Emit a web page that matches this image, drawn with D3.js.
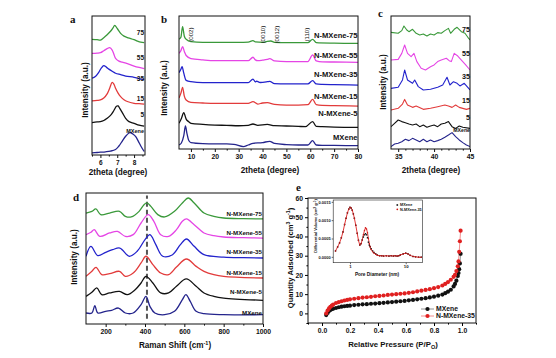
<!DOCTYPE html>
<html><head><meta charset="utf-8">
<script src="https://cdn.jsdelivr.net/npm/d3@7"></script>
<style>
body{margin:0;background:#fff}
svg{display:block}
text{font-family:"Liberation Sans",Arial,sans-serif;font-weight:bold;fill:#111}
.pl{font-family:"Liberation Serif","Times New Roman",serif;font-weight:bold}
</style>
</head><body><svg id="c" width="556" height="358"></svg>
<script>
// ---------- DATA ----------
const sampleLabelsShort = ["75","55","35","15","5","MXene"];
const sampleLabelsLong = ["N-MXene-75","N-MXene-55","N-MXene-35","N-MXene-15","N-MXene-5","MXene"];

// panel a (2theta, stacked intensity a.u.)
const a75 = [[5.5,83.2],[5.8,83.0],[6.0,82.7],[6.2,84.4],[6.4,86.5],[6.6,89.0],[6.75,91.5],[6.85,93.3],[7.0,91.0],[7.2,87.5],[7.4,85.5],[7.6,84.5],[7.8,83.8],[8.0,83.0],[8.2,82.0],[8.4,81.2],[8.6,80.8]];
const a55 = [[5.5,73.1],[5.8,73.3],[6.0,73.6],[6.2,75.0],[6.4,76.5],[6.55,77.2],[6.7,75.5],[6.8,72.5],[6.9,69.5],[7.1,67.5],[7.3,66.8],[7.6,65.8],[8.0,64.0],[8.3,63.0],[8.6,62.2]];
const a35 = [[5.5,55.2],[5.7,56.5],[5.9,59.5],[6.05,62.5],[6.2,64.3],[6.35,63.2],[6.5,61.8],[6.7,60.2],[6.9,58.8],[7.2,57.8],[7.5,56.8],[8.0,55.9],[8.3,55.0],[8.6,54.2]];
const a15 = [[5.5,39.0],[5.8,39.3],[6.0,39.6],[6.2,41.0],[6.4,44.0],[6.55,48.0],[6.7,52.3],[6.8,51.0],[6.9,48.0],[7.05,44.5],[7.2,42.0],[7.4,39.8],[7.6,38.5],[8.0,37.2],[8.3,36.9],[8.6,36.6]];
const a5 = [[5.5,23.3],[5.8,23.8],[6.0,24.0],[6.2,24.8],[6.4,26.4],[6.6,28.5],[6.8,32.0],[6.95,35.0],[7.05,35.3],[7.15,33.5],[7.3,30.5],[7.5,26.4],[7.7,24.0],[8.0,22.8],[8.3,21.5],[8.6,20.8]];
const a0 = [[5.5,1.5],[5.8,1.8],[6.0,2.0],[6.3,2.3],[6.6,2.8],[6.9,4.0],[7.1,6.5],[7.3,10.0],[7.5,13.5],[7.7,15.8],[7.8,16.0],[7.95,15.0],[8.1,13.2],[8.25,10.0],[8.4,6.5],[8.6,2.5]];
const aTicks = [6,7,8];

// panel b
const b75 = [[5,82.5],[5.8,84],[6.5,92],[7.2,85],[8,82.5],[10,80.7],[15,80.2],[20,80.2],[25,80.2],[30,80.2],[34,80.4],[36,81.5],[37,80.5],[40,80.2],[42,81],[43.5,81.2],[45,80.2],[50,80],[55,80],[59,80],[61,82.5],[62.5,80],[70,79.6],[80,79.4]];
const b55 = [[5,72],[5.8,74],[6.5,77],[7.3,73],[8,70.3],[10,68],[15,67],[20,66.4],[25,66.4],[30,66.4],[34,66.4],[36,69],[37,67],[38,66.4],[40,66.8],[42,67.4],[43,67.9],[45,66.2],[50,65.7],[55,65.7],[59,65.7],[61,70.7],[62.5,66.2],[65,65.5],[70,65.4],[80,65.2]];
const b35 = [[5,57.4],[5.8,60],[6.3,62],[7,57],[8,51.6],[10,50.6],[15,49.9],[20,49.9],[25,49.9],[30,49.9],[34,49.9],[36,52.6],[37,50.4],[37.5,51],[39,50],[42,50.6],[43,50.9],[45,49.1],[50,48.9],[55,48.9],[59,48.9],[61,51.4],[62.5,48.9],[65,48.6],[70,48.4],[80,48.1]];
const b15 = [[5,38.3],[5.8,42],[6.5,46.4],[7.2,40],[8,36.8],[10,35.1],[15,34.6],[20,34.3],[25,34.3],[30,34.3],[34,34.3],[36,35.6],[38,33.8],[40,34.6],[42,34.8],[45,33.6],[50,33],[55,33],[59,33.3],[61,37.3],[62.5,33.3],[65,32.8],[70,32.6],[80,32.3]];
const b5 = [[5,19.3],[6,23],[7,27.3],[8,22.5],[9,20.6],[10,19.3],[15,18.5],[20,18],[25,17.8],[30,17.5],[34,17.8],[36,18.8],[38,17.8],[42,18.5],[45,17.5],[50,17.3],[55,17],[58,16.8],[61,20.6],[62.5,17],[65,16.8],[70,16.5],[80,16.3]];
const b0 = [[5,3],[6,4.5],[7,10],[7.7,17.3],[8.3,12],[9,6.8],[10,4.8],[15,4],[20,3.8],[25,3.8],[28,3.5],[32,1.8],[34,3],[36,4.3],[40,4.8],[43,5.8],[45,4.2],[50,3.3],[55,3],[59,3],[61,6.3],[62.5,3],[65,2.8],[70,2.7],[80,2.5]];
const bTicks = [10,20,30,40,50,60,70,80];
const bPeakLabels = ["(002)","(0010)","(0012)","(110)"];
const bPeakPos = [10,40.3,46.1,58.5];

// panel c
const c75 = [[34,87.7],[35,87.0],[35.5,89.0],[35.8,92.5],[36.2,89.5],[36.5,88.2],[37,90.0],[37.5,87.0],[38,85.7],[38.5,86.5],[39,85.0],[39.5,86.5],[40,85.7],[40.5,87.5],[41,87.0],[41.5,89.0],[42,90.7],[42.3,87.0],[42.8,90.0],[43.2,91.5],[43.8,88.2],[44.3,87.0],[44.7,84.0],[45,82.0]];
const c55 = [[34,66.9],[35,67.4],[35.5,71.9],[35.9,78.2],[36.3,71.9],[36.8,69.4],[37.2,71.9],[37.6,65.7],[38.2,60.7],[38.8,59.4],[39.5,61.9],[40,63.2],[40.5,65.7],[41,66.9],[41.7,68.2],[42.1,66.4],[42.4,65.7],[42.8,71.9],[43.3,69.9],[43.8,66.9],[44.4,63.2],[45,59.4]];
const c35 = [[34,45.6],[35,46.4],[35.6,51.9],[35.9,59.4],[36.3,51.9],[37,49.4],[37.3,51.9],[37.8,46.9],[38.5,44.4],[39.5,44.9],[40.5,46.4],[41.2,48.1],[41.8,53.9],[42.2,48.1],[42.7,50.6],[43.2,49.4],[43.6,47.4],[44.2,49.4],[45,44.4]];
const c15 = [[34,29.3],[35,30.6],[35.6,33.8],[35.9,37.3],[36.3,33.1],[37,31.3],[37.5,32.3],[38.5,29.8],[39.5,30.6],[40.5,31.8],[41.5,33.1],[42,32.3],[42.5,31.3],[43,33.1],[43.5,31.3],[44.5,29.8],[45,30.6]];
const c5 = [[34,16.8],[34.5,19.3],[35,21.8],[35.5,20.6],[36,19.8],[36.5,18.8],[37,18.0],[37.5,18.8],[38,16.8],[38.5,18.0],[39,16.3],[39.5,17.3],[40,18.0],[40.5,16.8],[41,18.8],[41.5,19.3],[42,20.6],[42.5,16.8],[43,15.5],[43.5,17.3],[44,16.3],[45,15.5]];
const c0 = [[34,1.8],[34.5,3.8],[35,4.3],[35.5,5.5],[36,7.3],[36.5,6.3],[37,8.0],[37.5,6.8],[38,5.5],[38.5,7.3],[39,5.5],[39.5,6.8],[40,5.5],[40.5,6.3],[41,7.3],[41.5,8.8],[42,10.5],[42.5,12.3],[43,9.3],[43.5,6.8],[44,4.8],[44.5,3.0],[45,1.8]];
const cTicks = [35,40,45];

// panel d (Raman shift)
const d75 = [[100,84.7],[130,86.0],[150,87.8],[175,83.5],[220,84.7],[270,86.0],[300,82.2],[330,81.7],[370,86.0],[395,91.1],[410,92.4],[430,89.8],[465,83.5],[500,81.7],[550,86.0],[590,92.4],[620,96.2],[650,92.4],[700,84.7],[750,82.2],[800,80.9],[900,80.4],[1000,80.2]];
const d55 = [[100,68.2],[125,70.0],[142,72.0],[170,66.9],[220,69.5],[260,70.7],[300,66.9],[340,68.2],[380,77.1],[416,83.5],[445,78.4],[480,68.2],[520,66.9],[560,72.0],[590,78.4],[611,80.2],[650,75.8],[700,69.5],[750,67.4],[800,66.4],[900,65.9],[1000,65.6]];
const d35 = [[100,51.7],[125,59.3],[160,52.2],[200,54.7],[235,56.7],[272,58.0],[320,51.7],[360,55.5],[400,64.4],[425,68.2],[455,60.6],[490,51.7],[540,52.9],[580,60.6],[611,64.9],[650,59.3],[700,52.9],[800,51.1],[900,50.6],[1000,50.4]];
const d15 = [[100,36.4],[130,40.2],[151,43.3],[180,37.7],[220,38.4],[270,40.2],[300,36.4],[340,38.9],[380,46.6],[405,51.7],[440,45.3],[480,38.9],[520,37.7],[560,43.5],[611,49.6],[660,44.0],[700,40.2],[750,37.7],[800,36.4],[1000,35.1]];
const d5 = [[100,21.1],[130,24.2],[155,27.5],[180,22.4],[220,23.7],[270,24.9],[310,22.4],[350,26.2],[380,31.3],[405,36.4],[440,31.3],[480,23.7],[520,23.7],[560,28.8],[610,34.4],[660,28.8],[700,23.7],[750,21.1],[800,19.8],[1000,18.1]];
const d0 = [[100,8.4],[130,8.4],[145,14.0],[160,8.4],[200,9.7],[230,10.4],[265,12.2],[300,8.4],[340,8.4],[380,14.8],[405,21.1],[425,13.5],[450,8.4],[500,7.1],[550,9.7],[590,18.6],[608,22.4],[630,17.3],[660,9.7],[700,7.9],[800,7.1],[1000,7.1]];
const dTicks = [200,400,600,800,1000];
const dGuide = 410;

// panel e: N2 isotherms
const eMX = [[0.03,-0.9],[0.04,0.2],[0.05,1.2],[0.06,1.8],[0.07,2.2],[0.08,2.4],[0.1,2.8],[0.12,3.2],[0.14,3.5],[0.16,3.7],[0.18,3.9],[0.2,4.0],[0.23,4.3],[0.26,4.5],[0.29,4.7],[0.32,4.8],[0.35,5.0],[0.38,5.1],[0.41,5.3],[0.44,5.5],[0.47,5.7],[0.5,5.9],[0.53,6.1],[0.56,6.3],[0.59,6.5],[0.62,6.8],[0.65,7.0],[0.68,7.3],[0.71,7.6],[0.74,7.9],[0.77,8.3],[0.8,8.7],[0.83,9.2],[0.86,9.8],[0.88,10.5],[0.9,11.3],[0.92,12.3],[0.94,14.0],[0.95,15.3],[0.96,17.0],[0.97,19.5],[0.975,21.0],[0.98,23.0],[0.985,26.0],[0.99,31.0]];
const eN35 = [[0.03,0.0],[0.04,1.5],[0.05,2.6],[0.06,3.4],[0.07,4.0],[0.08,4.6],[0.1,5.4],[0.12,5.9],[0.14,6.3],[0.16,6.7],[0.18,7.0],[0.2,7.3],[0.23,7.6],[0.26,7.9],[0.29,8.2],[0.32,8.4],[0.35,8.6],[0.38,8.9],[0.41,9.1],[0.44,9.3],[0.47,9.6],[0.5,9.8],[0.53,10.0],[0.56,10.2],[0.59,10.4],[0.62,10.7],[0.65,11.0],[0.68,11.4],[0.71,11.8],[0.74,12.2],[0.77,12.6],[0.8,13.1],[0.83,13.7],[0.86,14.5],[0.88,15.3],[0.9,16.3],[0.92,17.5],[0.94,19.0],[0.95,20.0],[0.96,22.0],[0.97,24.5],[0.975,27.0],[0.98,32.0],[0.985,37.5],[0.99,43.0]];
const eXTicks = [0,0.2,0.4,0.6,0.8,1.0];
const eYTicks = [0,10,20,30,40,50,60];
const eLegend = ["MXene","N-MXene-35"];

// inset: pore size distribution
const insMX = [[0.55,0.00016],[0.6,0.00027],[0.65,0.00038],[0.7,0.00052],[0.75,0.00068],[0.8,0.00088],[0.85,0.00105],[0.9,0.0012],[0.95,0.0013],[1.0,0.00135],[1.05,0.00133],[1.1,0.00127],[1.15,0.00117],[1.2,0.00105],[1.27,0.00086],[1.35,0.00064],[1.42,0.00045],[1.5,0.00032],[1.58,0.00036],[1.66,0.00046],[1.74,0.00054],[1.82,0.0006],[1.9,0.00063],[1.98,0.0006],[2.06,0.00052],[2.14,0.0004],[2.22,0.00032],[2.3,0.00028],[2.4,0.00022],[2.55,0.00016],[2.7,0.00012],[2.9,0.00008],[3.1,0.00005],[3.4,0.00003],[3.7,0.00003],[4,0.00002],[4.5,0.00003],[5,0.00002],[5.5,0.00003],[6,0.00002],[6.5,0.00003],[7,0.00002],[7.5,0.00003],[8,0.00005],[9,0.00008],[10,0.0001],[11,0.00008],[12,0.00004],[13.5,0.00001],[15,0.0],[17,-0.00001],[19,-0.00001]];
const insN35 = [[0.55,0.00016],[0.6,0.00027],[0.65,0.00038],[0.7,0.00052],[0.75,0.00068],[0.8,0.00088],[0.85,0.00105],[0.9,0.0012],[0.95,0.0013],[1.0,0.00135],[1.05,0.00133],[1.1,0.00127],[1.15,0.00117],[1.2,0.00105],[1.27,0.00086],[1.35,0.00064],[1.42,0.00045],[1.5,0.00032],[1.58,0.00036],[1.66,0.00046],[1.74,0.0006],[1.82,0.00072],[1.9,0.00079],[1.98,0.00076],[2.06,0.00066],[2.14,0.0005],[2.22,0.00036],[2.3,0.00027],[2.4,0.0002],[2.55,0.00014],[2.7,0.0001],[2.9,0.00007],[3.1,0.00004],[3.4,0.00003],[3.7,0.00003],[4,0.00002],[4.5,0.00003],[5,0.00002],[5.5,0.00003],[6,0.00002],[6.5,0.00003],[7,0.00002],[7.5,0.00003],[8,0.00005],[9,0.00008],[10,0.0001],[11,0.00008],[12,0.00004],[13.5,0.00001],[15,0.0],[17,-0.00001],[19,-0.00001]];
const insXTicks = [1,10];
const insYTicks = [0,0.0005,0.001,0.0015];

// ---------- STYLE ----------
const traceColors = ["#3a993a","#e545e5","#2323cc","#e23b3b","#111111","#24248c"];
const svg = d3.select("#c");

function frameAndAxis(g, x, y, box, ticks, minor, fmt, fs) {
  g.append("rect").attr("x",box.l).attr("y",box.t).attr("width",box.r-box.l).attr("height",box.b-box.t)
    .attr("fill","none").attr("stroke","#111").attr("stroke-width",1);
  const ax = g.append("g").attr("transform",`translate(0,${box.b})`)
    .call(d3.axisBottom(x).tickValues(ticks).tickSize(3).tickPadding(2).tickFormat(fmt));
  ax.select(".domain").remove();
  ax.selectAll("line").attr("stroke","#111");
  ax.selectAll("text").attr("font-size",fs).attr("fill","#111").style("font-weight","bold");
  if (minor) {
    const mx = g.append("g").attr("transform",`translate(0,${box.b})`)
      .call(d3.axisBottom(x).tickValues(minor).tickSize(1.6).tickFormat(""));
    mx.select(".domain").remove();
    mx.selectAll("line").attr("stroke","#111");
  }
}

function stackPanel(cfg) {
  const g = svg.append("g");
  const box = cfg.box;
  const x = d3.scaleLinear().domain(cfg.xd).range([box.l, box.r]);
  const y = d3.scaleLinear().domain([0,100]).range([box.b, box.t]);
  const id = "clip" + cfg.name;
  g.append("clipPath").attr("id",id).append("rect")
    .attr("x",box.l).attr("y",box.t).attr("width",box.r-box.l).attr("height",box.b-box.t);
  const line = d3.line().x(d=>x(d[0])).y(d=>y(d[1])).curve(cfg.curve);
  const gc = g.append("g").attr("clip-path",`url(#${id})`);
  if (cfg.guide !== undefined) {
    gc.append("line").attr("x1",x(cfg.guide)).attr("x2",x(cfg.guide))
      .attr("y1",y(4)).attr("y2",y(98)).attr("stroke","#555").attr("stroke-width",2).attr("stroke-dasharray","5,3");
  }
  cfg.series.forEach((s,i)=>{
    gc.append("path").attr("d",line(s)).attr("fill","none")
      .attr("stroke",traceColors[i]).attr("stroke-width",cfg.sw||1.3).attr("stroke-linejoin","round");
  });
  cfg.labels.forEach((t,i)=>{
    g.append("text").attr("x",cfg.labelX).attr("y",y(cfg.labelY[i]))
      .attr("text-anchor","end").attr("font-size",t==="MXene"&&cfg.smallMX?cfg.smallMX:cfg.labelFs).text(t);
  });
  frameAndAxis(g, x, y, box, cfg.ticks, cfg.minor, cfg.fmt||(d=>d), cfg.tickFs);
  // titles
  g.append("text").attr("class","pl").attr("x",cfg.letter[0]).attr("y",cfg.letter[1]).attr("font-size",11).text(cfg.name);
  g.append("text").attr("transform",`translate(${cfg.ylab[0]},${cfg.ylab[1]}) rotate(-90)`)
    .attr("text-anchor","middle").attr("dy","0.35em").attr("font-size",cfg.titleFs).text("Intensity (a.u.)");
  const xl = g.append("text").attr("x",cfg.xlab[0]).attr("y",cfg.xlab[1]).attr("text-anchor","middle").attr("font-size",cfg.titleFs);
  cfg.xtitle(xl);
  return {g,x,y};
}

// panel a
stackPanel({name:"a", box:{l:92,r:145,t:16,b:155}, xd:[5.5,8.65], series:[a75,a55,a35,a15,a5,a0],
  curve:d3.curveCatmullRom, labels:sampleLabelsShort, labelX:144, labelY:[86,68,53,38.5,27,15.5], labelFs:6.5, smallMX:5.5,
  ticks:aTicks, minor:[5.5,6.5,7.5,8.5], tickFs:6.5, letter:[70,23], ylab:[85,90], xlab:[118,175], titleFs:8.2,
  xtitle:t=>t.text("2theta (degree)")});

// panel b
const pb = stackPanel({name:"b", box:{l:179,r:358,t:16,b:149}, xd:[5,80], series:[b75,b55,b35,b15,b5,b0],
  curve:d3.curveMonotoneX, labels:sampleLabelsLong, labelX:357.5, labelY:[83.5,68.4,54.1,37.8,24.8,7.0], labelFs:7.6,
  ticks:bTicks, minor:[15,25,35,45,55,65,75], tickFs:6.8, letter:[161,23], ylab:[164,88], xlab:[270,173], titleFs:8.2,
  xtitle:t=>t.text("2theta (degree)")});
bPeakLabels.forEach((t,i)=>{
  pb.g.append("text").attr("transform",`translate(${pb.x(bPeakPos[i])},${pb.y(86)}) rotate(-90)`)
    .attr("text-anchor","middle").attr("dy","0.35em").attr("font-size",6.2).style("font-weight","normal").text(t);
});

// panel c
stackPanel({name:"c", box:{l:391,r:470,t:16,b:149}, xd:[34,45], series:[c75,c55,c35,c15,c5,c0],
  curve:d3.curveLinear, sw:1.1, labels:sampleLabelsShort, labelX:470, labelY:[88,70,52.6,34.6,21.8,12.5], labelFs:7.2, smallMX:5.2,
  ticks:cTicks, minor:[36,37,38,39,41,42,43,44], tickFs:6.8, letter:[378,17], ylab:[383,82], xlab:[431,173], titleFs:8.2,
  xtitle:t=>t.text("2theta (degree)")});

// panel d
stackPanel({name:"d", box:{l:86,r:263,t:193,b:324}, xd:[100,1000], series:[d75,d55,d35,d15,d5,d0],
  curve:d3.curveCatmullRom, guide:dGuide, labels:sampleLabelsLong, labelX:262, labelY:[82.7,67.9,53.4,37.4,22.9,6.9], labelFs:6.2,
  ticks:dTicks, minor:[300,500,700,900], tickFs:6.8, letter:[73,201], ylab:[74,257], xlab:[175,348], titleFs:8.2,
  xtitle:t=>{t.append("tspan").text("Raman Shift (cm");t.append("tspan").attr("dy",-3).attr("font-size",5.5).text("-1");t.append("tspan").attr("dy",3).text(")");}});

// panel e
(function(){
  const g = svg.append("g");
  const box = {l:308,r:476,t:198,b:323};
  const x = d3.scaleLinear().domain([-0.1,1.1]).range([box.l,box.r]);
  const y = d3.scaleLinear().domain([-5,60]).range([box.b,box.t]);
  const line = d3.line().x(d=>x(d[0])).y(d=>y(d[1]));
  const sets = [{d:eMX,c:"#111",lc:"#777"},{d:eN35,c:"#e02020",lc:"#f07070"}];
  sets.forEach(s=>{
    g.append("path").attr("d",line(s.d)).attr("fill","none").attr("stroke",s.lc).attr("stroke-width",0.8);
  });
  sets.forEach(s=>{
    g.selectAll(null).data(s.d).enter().append("circle").attr("cx",d=>x(d[0])).attr("cy",d=>y(d[1]))
      .attr("r",2.1).attr("fill",s.c);
  });
  g.append("rect").attr("x",box.l).attr("y",box.t).attr("width",box.r-box.l).attr("height",box.b-box.t)
    .attr("fill","none").attr("stroke","#111").attr("stroke-width",1);
  const ax = g.append("g").attr("transform",`translate(0,${box.b})`)
    .call(d3.axisBottom(x).tickValues(eXTicks).tickSize(3).tickPadding(2).tickFormat(d3.format(".1f")));
  ax.select(".domain").remove();
  ax.selectAll("text").attr("font-size",6.8).style("font-weight","bold").attr("fill","#111");
  const mx = g.append("g").attr("transform",`translate(0,${box.b})`)
    .call(d3.axisBottom(x).tickValues([-0.1,0.1,0.3,0.5,0.7,0.9,1.1]).tickSize(1.6).tickFormat(""));
  mx.select(".domain").remove();
  const ay = g.append("g").attr("transform",`translate(${box.l},0)`)
    .call(d3.axisLeft(y).tickValues(eYTicks).tickSize(3).tickPadding(2));
  ay.select(".domain").remove();
  ay.selectAll("text").attr("font-size",6.8).style("font-weight","bold").attr("fill","#111");
  const my = g.append("g").attr("transform",`translate(${box.l},0)`)
    .call(d3.axisLeft(y).tickValues([-5,5,15,25,35,45,55]).tickSize(1.6).tickFormat(""));
  my.select(".domain").remove();
  // legend
  eLegend.forEach((t,i)=>{
    const ly = 309 + i*7;
    g.append("line").attr("x1",421).attr("x2",434).attr("y1",ly).attr("y2",ly).attr("stroke",sets[i].lc).attr("stroke-width",0.8);
    g.append("circle").attr("cx",427.5).attr("cy",ly).attr("r",2.1).attr("fill",sets[i].c);
    g.append("text").attr("x",436).attr("y",ly).attr("dy","0.35em").attr("font-size",6.8).text(t);
  });
  g.append("text").attr("class","pl").attr("x",296).attr("y",191).attr("font-size",11).text("e");
  const yl = g.append("text").attr("transform","translate(290,258) rotate(-90)").attr("text-anchor","middle").attr("dy","0.35em").attr("font-size",7.6);
  yl.append("tspan").text("Quantity Adsorbed (cm");
  yl.append("tspan").attr("dy",-2.5).attr("font-size",5.2).text("3");
  yl.append("tspan").attr("dy",2.5).text(" g");
  yl.append("tspan").attr("dy",-2.5).attr("font-size",5.2).text("-1");
  yl.append("tspan").attr("dy",2.5).text(")");
  const xl = g.append("text").attr("x",393).attr("y",347).attr("text-anchor","middle").attr("font-size",7.8);
  xl.append("tspan").text("Relative Pressure (P/P");
  xl.append("tspan").attr("dy",2).attr("font-size",5.5).text("O");
  xl.append("tspan").attr("dy",-2).text(")");

  // inset
  const ib = {l:333.2,r:422.5,t:200,b:262.7};
  const ix = d3.scaleLog().domain([0.5,20]).range([ib.l,ib.r]);
  const iy = d3.scaleLinear().domain([-0.00016,0.00155]).range([ib.b,ib.t]);
  g.append("rect").attr("x",ib.l).attr("y",ib.t).attr("width",ib.r-ib.l).attr("height",ib.b-ib.t)
    .attr("fill","#fff").attr("stroke","#222").attr("stroke-width",0.6);
  const il = d3.line().x(d=>ix(d[0])).y(d=>iy(d[1]));
  g.append("path").attr("d",il(insN35)).attr("fill","none").attr("stroke","#e02020").attr("stroke-width",0.9);
  g.selectAll(null).data(insMX).enter().append("rect").attr("x",d=>ix(d[0])-0.7).attr("y",d=>iy(d[1])-0.7)
    .attr("width",1.4).attr("height",1.4).attr("fill","#111");
  g.selectAll(null).data(insN35).enter().append("circle").attr("cx",d=>ix(d[0])).attr("cy",d=>iy(d[1]))
    .attr("r",0.75).attr("fill","#d01818");
  const iax = g.append("g").attr("transform",`translate(0,${ib.b})`)
    .call(d3.axisBottom(ix).tickValues(insXTicks).tickSize(1.5).tickPadding(1).tickFormat(d=>d));
  iax.select(".domain").remove();
  iax.selectAll("line").attr("stroke-width",0.6);
  iax.selectAll("text").attr("font-size",4.3).style("font-weight","bold").attr("fill","#222");
  const iay = g.append("g").attr("transform",`translate(${ib.l},0)`)
    .call(d3.axisLeft(iy).tickValues(insYTicks).tickSize(1.5).tickPadding(1).tickFormat(d3.format(".4f")));
  iay.select(".domain").remove();
  iay.selectAll("line").attr("stroke-width",0.6);
  iay.selectAll("text").attr("font-size",4).style("font-weight","bold").attr("fill","#222");
  g.append("text").attr("x",377).attr("y",276).attr("text-anchor","middle").attr("font-size",4.8).text("Pore Diameter (nm)");
  const iyl = g.append("text").attr("transform","translate(316,226) rotate(-90)").attr("text-anchor","middle").attr("dy","0.35em").attr("font-size",4);
  iyl.append("tspan").text("Differential Volume (cm");
  iyl.append("tspan").attr("dy",-1.5).attr("font-size",3).text("3");
  iyl.append("tspan").attr("dy",1.5).text(" g");
  iyl.append("tspan").attr("dy",-1.5).attr("font-size",3).text("-1");
  iyl.append("tspan").attr("dy",1.5).text(")");
  ["MXene","N-MXene-35"].forEach((t,i)=>{
    const ly = 205 + i*4.3;
    if (i===0) g.append("rect").attr("x",396.5).attr("y",ly-0.8).attr("width",1.6).attr("height",1.6).attr("fill","#111");
    else g.append("circle").attr("cx",397.3).attr("cy",ly).attr("r",0.9).attr("fill","#d01818");
    g.append("text").attr("x",400).attr("y",ly).attr("dy","0.35em").attr("font-size",3.8).text(t);
  });
})();
</script></body></html>
